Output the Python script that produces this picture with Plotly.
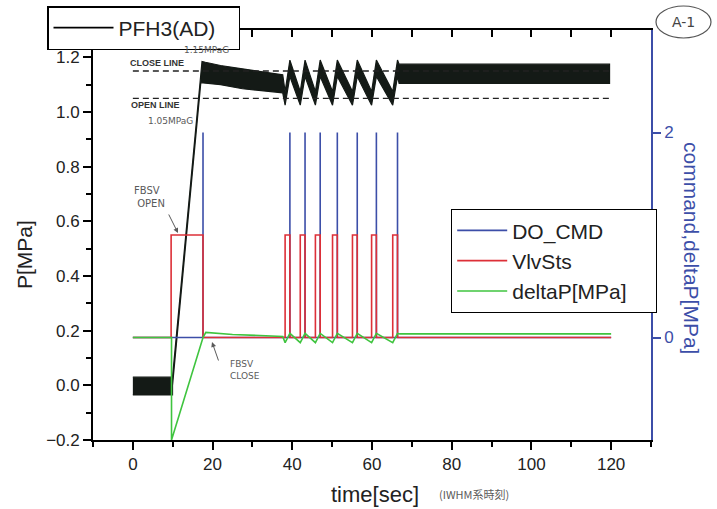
import plotly.graph_objects as go

# ---------------- data ----------------
# PFH3(AD) pressure trace (noisy band): upper and lower envelopes [MPa]
pfh3_upper_t = [0, 9.75, 9.75, 17.35, 18.2, 22, 27.5, 33, 37.6,
                38.2, 39.4, 42.0, 43.2, 45.8, 47.0, 50.1, 51.3, 55.1, 56.3,
                59.9, 61.1, 65.2, 66.4, 66.8, 119.6]
pfh3_upper_v = [0.03, 0.03, 0.0, 1.185, 1.182, 1.17, 1.158, 1.145, 1.136,
                1.075, 1.19, 1.075, 1.19, 1.075, 1.19, 1.075, 1.19, 1.075, 1.19,
                1.075, 1.19, 1.075, 1.19, 1.175, 1.175]
pfh3_lower_t = [0, 9.95, 9.95, 17.05, 18.2, 22, 27.5, 33, 37.6,
                38.2, 39.4, 42.0, 43.2, 45.8, 47.0, 50.1, 51.3, 55.1, 56.3,
                59.9, 61.1, 65.2, 66.4, 66.8, 119.6]
pfh3_lower_v = [-0.035, -0.035, 0.0, 1.107, 1.107, 1.10, 1.085, 1.077, 1.07,
                1.025, 1.13, 1.025, 1.13, 1.025, 1.13, 1.025, 1.13, 1.025, 1.13,
                1.025, 1.13, 1.025, 1.13, 1.105, 1.105]

# reference lines [MPa]
close_line = 1.15
open_line = 1.05
ref_line_t = [0, 120]

# DO_CMD (right axis)
do_cmd_t = [0, 17.6, 17.6, 17.6, 39.4, 39.4, 39.4, 43.2, 43.2, 43.2, 47.0, 47.0, 47.0,
            51.3, 51.3, 51.3, 56.3, 56.3, 56.3, 61.1, 61.1, 61.1, 66.4, 66.4, 66.4, 120]
do_cmd_v = [0, 0, 2, 0, 0, 2, 0, 0, 2, 0, 0, 2, 0,
            0, 2, 0, 0, 2, 0, 0, 2, 0, 0, 2, 0, 0]

# VlvSts (right axis)
vlv_t = [0, 9.6, 9.6, 17.6, 17.6,
         38.2, 38.2, 39.4, 39.4,
         42.0, 42.0, 43.2, 43.2,
         45.8, 45.8, 47.0, 47.0,
         50.1, 50.1, 51.3, 51.3,
         55.1, 55.1, 56.3, 56.3,
         59.9, 59.9, 61.1, 61.1,
         65.2, 65.2, 66.4, 66.4, 120]
vlv_v = [0, 0, 1, 1, 0,
         0, 1, 1, 0,
         0, 1, 1, 0,
         0, 1, 1, 0,
         0, 1, 1, 0,
         0, 1, 1, 0,
         0, 1, 1, 0,
         0, 1, 1, 0, 0]

# deltaP[MPa] (right axis)
dp_t = [0, 9.7, 9.7, 17.6, 18.3, 25, 37.6,
        38.2, 39.4, 42.0, 43.2, 45.8, 47.0, 50.1, 51.3, 55.1, 56.3,
        59.9, 61.1, 65.2, 66.4, 67.0, 120]
dp_v = [0, 0, -1, 0.0, 0.05, 0.03, 0.01,
        -0.05, 0.04, -0.05, 0.04, -0.05, 0.04, -0.05, 0.04, -0.05, 0.04,
        -0.05, 0.04, -0.05, 0.04, 0.035, 0.035]

# ---------------- styling ----------------
FONT = "Liberation Sans, Arial, sans-serif"
BLUE = "#3c4ea8"
RED = "#dd3038"
GREEN = "#3fc43f"
HAND = "#5a5a5a"
NB = "\u00a0"

PL, PR, PT, PB = 93, 651, 30, 440


def px(x):
    return (x - PL) / (PR - PL)


def py(y):
    return (PB - y) / (PB - PT)


fig = go.Figure()

# right-axis series
fig.add_trace(go.Scatter(x=do_cmd_t, y=do_cmd_v, mode="lines", name="DO_CMD",
                         line=dict(color=BLUE, width=1.6), yaxis="y2", legend="legend2"))
fig.add_trace(go.Scatter(x=vlv_t, y=vlv_v, mode="lines", name="VlvSts",
                         line=dict(color=RED, width=1.6), yaxis="y2", legend="legend2"))
fig.add_trace(go.Scatter(x=dp_t, y=dp_v, mode="lines", name="deltaP[MPa]" + NB * 4,
                         line=dict(color=GREEN, width=1.6), yaxis="y2", legend="legend2"))

# PFH3 band
poly_t = pfh3_upper_t + pfh3_lower_t[::-1]
poly_v = pfh3_upper_v + pfh3_lower_v[::-1]
fig.add_trace(go.Scatter(x=poly_t, y=poly_v, mode="lines", fill="toself",
                         fillcolor="#141a16", line=dict(color="#141a16", width=1.2),
                         showlegend=False, hoverinfo="skip"))

# dashed close/open lines
for lvl in (close_line, open_line):
    fig.add_trace(go.Scatter(x=ref_line_t, y=[lvl, lvl], mode="lines",
                             line=dict(color="#222222", width=1.3, dash="6px,4px"),
                             showlegend=False, hoverinfo="skip"))

# legend-only entry for PFH3(AD) (also carries the top axis)
fig.add_trace(go.Scatter(x=[None], y=[None], mode="lines", name="PFH3(AD)" + NB * 3,
                         line=dict(color="black", width=1.6), xaxis="x2",
                         legend="legend"))

axis_font = dict(family=FONT, size=17, color="#222222")

fig.update_layout(
    width=717, height=509,
    margin=dict(l=PL, r=717 - PR, t=PT, b=509 - PB, autoexpand=False),
    paper_bgcolor="white", plot_bgcolor="white",
    font=dict(family=FONT, color="#222222"),
    xaxis=dict(range=[-10, 130], tickmode="linear", tick0=0, dtick=20,
               ticks="outside", ticklen=8, tickwidth=1.5, tickcolor="black",
               minor=dict(tickmode="linear", tick0=0, dtick=10, ticks="outside",
                          ticklen=5, tickwidth=1.5, tickcolor="black"),
               showline=True, linecolor="black", linewidth=1.8,
               showgrid=False, zeroline=False, tickfont=axis_font),
    xaxis2=dict(range=[-10, 130], overlaying="x", side="top", anchor="y",
                tickmode="linear", tick0=0, dtick=10, ticks="inside", ticklen=7,
                tickwidth=1.5, tickcolor="black", showticklabels=False,
                showline=True, linecolor="black", linewidth=1.8,
                showgrid=False, zeroline=False),
    yaxis=dict(range=[-0.2, 1.3], tickmode="linear", tick0=-0.2, dtick=0.2,
               tickformat=".1f", ticks="outside", ticklen=8, tickwidth=1.5,
               tickcolor="black",
               minor=dict(tickmode="linear", tick0=-0.2, dtick=0.1, ticks="outside",
                          ticklen=5, tickwidth=1.5, tickcolor="black"),
               showline=True, linecolor="black", linewidth=1.8,
               showgrid=False, zeroline=False, tickfont=axis_font),
    yaxis2=dict(range=[-1, 3], overlaying="y", side="right", anchor="x",
                tickmode="array", tickvals=[0, 2], ticks="outside", ticklen=8,
                tickwidth=1.5, tickcolor=BLUE, showline=True, linecolor=BLUE,
                linewidth=1.8, showgrid=False, zeroline=False,
                tickfont=dict(family=FONT, size=17, color=BLUE)),
    legend=dict(x=px(47), y=py(6), xanchor="left", yanchor="top",
                bgcolor="white", bordercolor="black", borderwidth=1.5,
                font=dict(family=FONT, size=21, color="#222222"),
                itemwidth=60),
    legend2=dict(x=px(451), y=py(209), xanchor="left", yanchor="top",
                 bgcolor="white", bordercolor="black", borderwidth=1.2,
                 font=dict(family=FONT, size=21, color="#222222"),
                 itemwidth=50, tracegroupgap=0),
)

annotations = [
    dict(text="P[MPa]", x=px(24), y=py(255), textangle=-90, font=dict(size=21, color="#222222")),
    dict(text="command,deltaP[MPa]", x=px(692), y=py(248), textangle=90, font=dict(size=21, color=BLUE)),
    dict(text="time[sec]", x=px(375), y=py(494), font=dict(size=22, color="#222222")),
    dict(text="(IWHM系時刻)", x=px(474), y=py(494),
         font=dict(size=11, color=HAND, family="Noto Sans CJK JP")),
    dict(text="<b>CLOSE LINE</b>", x=px(128), y=py(63), xanchor="left",
         font=dict(size=9, color="#333333", family="Liberation Sans, Arial")),
    dict(text="<b>OPEN LINE</b>", x=px(129), y=py(105), xanchor="left",
         font=dict(size=9, color="#333333", family="Liberation Sans, Arial")),
    dict(text="1.15MPaG", x=px(206), y=py(50), font=dict(size=9, color=HAND, family="DejaVu Sans")),
    dict(text="1.05MPaG", x=px(170), y=py(121), font=dict(size=9, color=HAND, family="DejaVu Sans")),
    dict(text="FBSV<br> OPEN", x=px(149), y=py(197), align="left",
         font=dict(size=10, color=HAND, family="DejaVu Sans")),
    dict(text="FBSV<br>CLOSE", x=px(245), y=py(370), align="left",
         font=dict(size=9, color=HAND, family="DejaVu Sans")),
    dict(text="A-1", x=px(683), y=py(22), font=dict(size=14, color="#444444", family="DejaVu Sans")),
]
for a in annotations:
    a.setdefault("showarrow", False)
    a.setdefault("xanchor", "center")
    a.setdefault("yanchor", "middle")
    a["xref"] = "paper"
    a["yref"] = "paper"
    f = a["font"]
    f.setdefault("family", FONT)
fig.update_layout(annotations=annotations)

# hand-drawn arrows
fig.add_annotation(x=px(178), y=py(233), xref="paper", yref="paper", ax=-10, ay=-20,
                   showarrow=True, arrowhead=2, arrowsize=1, arrowwidth=1,
                   arrowcolor=HAND, text="")
fig.add_annotation(x=px(212), y=py(342), xref="paper", yref="paper", ax=7, ay=20,
                   showarrow=True, arrowhead=2, arrowsize=1, arrowwidth=1,
                   arrowcolor=HAND, text="")

# circled "A-1"
fig.add_shape(type="circle", xref="paper", yref="paper",
              x0=px(656), x1=px(711), y0=py(38), y1=py(6),
              line=dict(color="#555555", width=1.2))

fig.write_html("out.html")
